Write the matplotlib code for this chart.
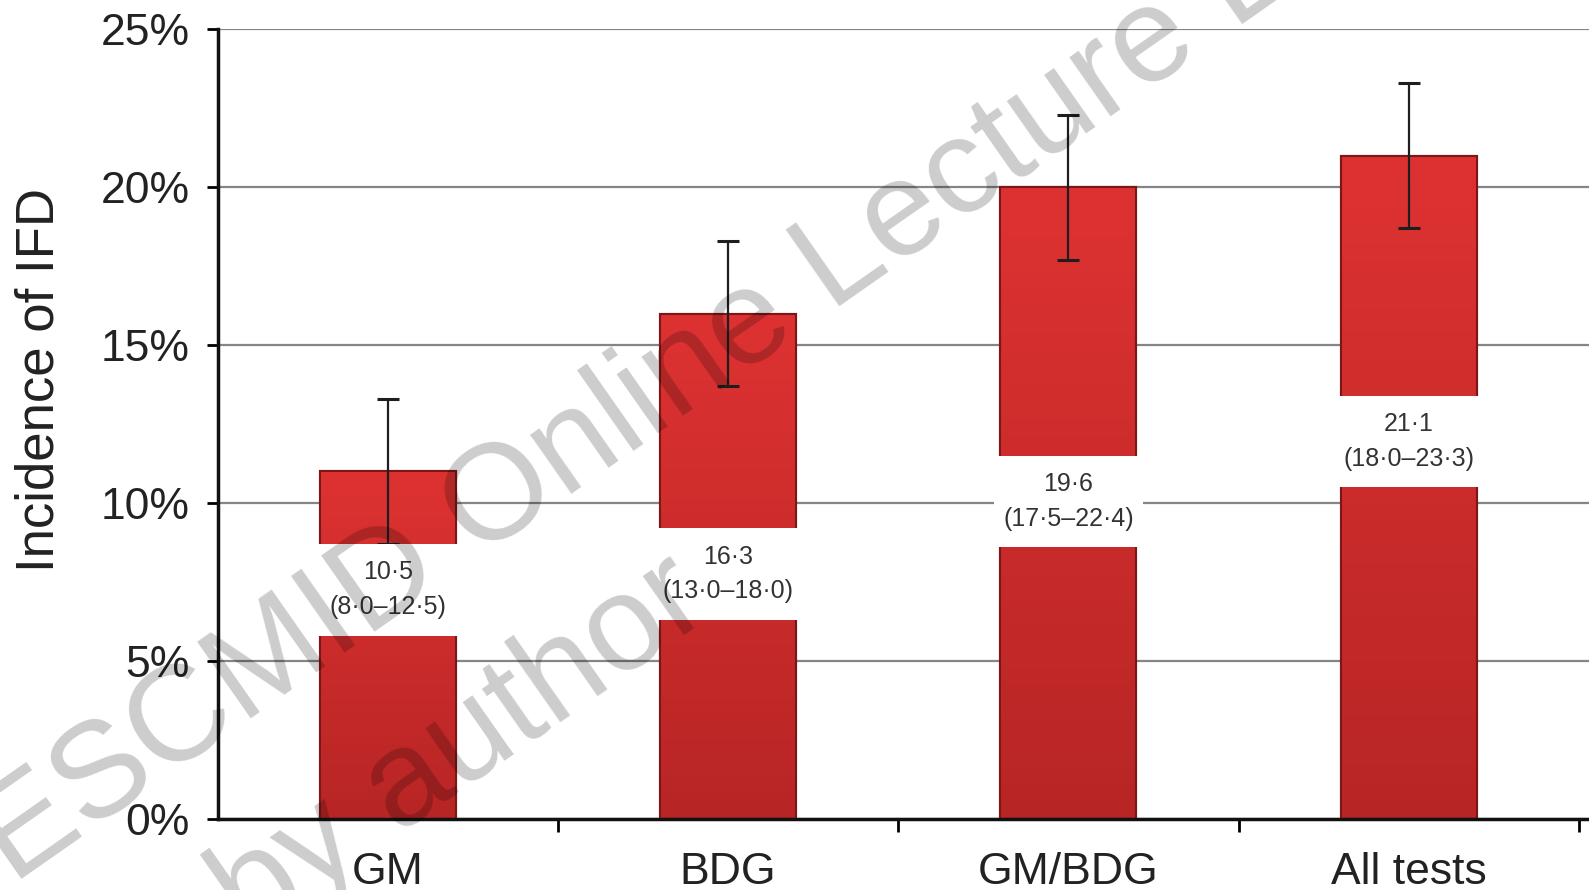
import matplotlib
matplotlib.use("Agg")
import matplotlib.pyplot as plt
import numpy as np
from matplotlib.colors import LinearSegmentedColormap

plt.rcParams['font.family'] = ['Liberation Sans', 'DejaVu Sans']

# data
groups = ["GM", "BDG", "GM/BDG", "All tests"]
heights = [11.0, 16.0, 20.0, 21.0]          # bar tops (%)
err = [2.3, 2.3, 2.3, 2.3]                  # error bar half length (%)
means = ["10·5", "16·3", "19·6", "21·1"]
ci = ["(8·0–12·5)", "(13·0–18·0)", "(17·5–22·4)", "(18·0–23·3)"]
box_bottom = [5.8, 6.3, 8.6, 10.5]          # white label box, lower edge (%)
box_h = 2.9
yticks = [0, 5, 10, 15, 20, 25]

fig = plt.figure(figsize=(15.89, 8.90), dpi=100)
ax = fig.add_axes([0.137, 0.080, 0.863, 0.887])

x = np.arange(len(groups))
bars = ax.bar(x, heights, width=0.4, color="#c92b2b", edgecolor="#7d1616",
              linewidth=1.5, zorder=2)

# soft top-to-bottom shading inside each bar
red_grad = LinearSegmentedColormap.from_list("rg", ["#b82525", "#de3232"])
grad = np.linspace(0, 1, 256).reshape(-1, 1)
for b in bars:
    x0, y0 = b.get_x(), b.get_y()
    im = ax.imshow(grad, cmap=red_grad, origin="lower", aspect="auto",
                   extent=[x0, x0 + b.get_width(), y0, y0 + b.get_height()],
                   zorder=2.1)
    im.set_clip_path(b)
    b.set_facecolor("none")
    ax.add_patch(plt.Rectangle((x0, y0), b.get_width(), b.get_height(),
                               fill=False, edgecolor="#7d1616", lw=1.5,
                               zorder=2.2))

ax.errorbar(x, heights, yerr=err, fmt="none", ecolor="#1e1e1e",
            elinewidth=1.6, capsize=8, capthick=2.2, zorder=3)

# white boxes holding the value labels
ax.bar(x, [box_h] * len(x), bottom=box_bottom, width=0.44,
       color="white", edgecolor="none", zorder=4)
for i in range(len(x)):
    yc = box_bottom[i] + box_h / 2
    ax.text(x[i], yc + 0.55, means[i], ha="center", va="center",
            fontsize=18, color="#333333", zorder=5,
            family=['Liberation Sans Narrow', 'Liberation Sans'])
    ax.text(x[i], yc - 0.55, ci[i], ha="center", va="center",
            fontsize=18, color="#333333", zorder=5,
            family=['Liberation Sans Narrow', 'Liberation Sans'])

ax.set_ylim(0, 25)
ax.set_xlim(-0.5, 3.53)
ax.set_yticks(yticks)
ax.set_yticklabels([f"{v}%" for v in yticks], fontsize=32, color="#222222")
ax.yaxis.grid(True, color="#858585", linewidth=1.6, zorder=0)
ax.set_axisbelow(True)

ax.set_xticks([0.5, 1.5, 2.5, 3.5])
ax.set_xticklabels([])
ax.set_xticks(x, minor=True)
ax.set_xticklabels(groups, minor=True, fontsize=32, color="#222222")
ax.tick_params(axis="x", which="minor", length=0, pad=24)
ax.tick_params(axis="x", which="major", length=9, width=2, direction="out")
ax.tick_params(axis="y", length=8, width=2, pad=12)

for s in ["top", "right"]:
    ax.spines[s].set_visible(False)
for s in ["left", "bottom"]:
    ax.spines[s].set_linewidth(2.5)
    ax.spines[s].set_color("#111111")

ax.set_ylabel("Incidence of IFD", fontsize=38, color="#222222", va="center")
ax.yaxis.set_label_coords(-0.13, 0.556)

# watermark
fig.text(0.008, 0.005, "ESCMID Online Lecture Library", fontsize=98,
         rotation=35, rotation_mode="anchor", ha="left", va="baseline",
         color="black", alpha=0.2, zorder=10)
fig.text(0.0854, -0.145, "© by author", fontsize=98,
         rotation=35, rotation_mode="anchor", ha="left", va="baseline",
         color="black", alpha=0.2, zorder=10)

fig.savefig("out.png", dpi=100)
